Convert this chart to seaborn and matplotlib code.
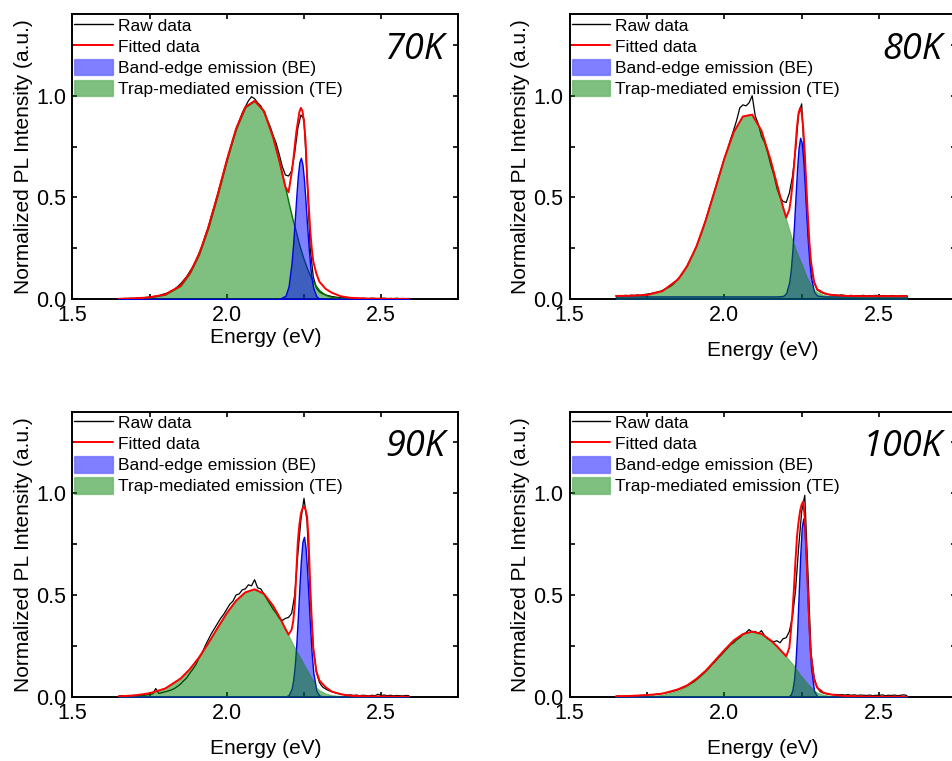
import numpy as np
import pandas as pd
import matplotlib
matplotlib.use("Agg")
import matplotlib.pyplot as plt
import seaborn as sns
from matplotlib.patches import Patch
from matplotlib.lines import Line2D
from matplotlib.ticker import MultipleLocator

# ---------------- data ----------------
TEMPS = ["70K", "80K", "90K", "100K"]

# energy grid for the fitted curves (eV)
E_FIT = [1.65, 1.70, 1.75, 1.80, 1.85, 1.88, 1.91, 1.94, 1.97, 2.00, 2.03, 2.06, 2.09, 2.12, 2.15,
         2.17, 2.19, 2.20, 2.21, 2.215, 2.22, 2.225, 2.23, 2.235, 2.24, 2.245, 2.25, 2.255, 2.26,
         2.265, 2.27, 2.275, 2.28, 2.29, 2.30, 2.32, 2.34, 2.37, 2.40, 2.45, 2.50, 2.55, 2.59]

# energy grid of the raw spectra (eV)
E_RAW = [1.65, 1.66, 1.67, 1.68, 1.69, 1.70, 1.71, 1.72, 1.73, 1.74, 1.75, 1.76, 1.77, 1.78, 1.79,
         1.80, 1.81, 1.82, 1.83, 1.84, 1.85, 1.86, 1.87, 1.88, 1.89, 1.90, 1.91, 1.92, 1.93, 1.94,
         1.95, 1.96, 1.97, 1.98, 1.99, 2.00, 2.01, 2.02, 2.03, 2.04, 2.05, 2.06, 2.07, 2.08, 2.09,
         2.10, 2.11, 2.12, 2.13, 2.14, 2.15, 2.16, 2.17, 2.18, 2.19, 2.20, 2.21, 2.22, 2.23, 2.24,
         2.25, 2.26, 2.27, 2.28, 2.29, 2.30, 2.31, 2.32, 2.33, 2.34, 2.35, 2.36, 2.37, 2.38, 2.39,
         2.40, 2.41, 2.42, 2.43, 2.44, 2.45, 2.46, 2.47, 2.48, 2.49, 2.50, 2.51, 2.52, 2.53, 2.54,
         2.55, 2.56, 2.57, 2.58, 2.59]

# ---- 70K ----
RAW_70 = [.002, .001, .003, .002, .004, .003, .005, .004, .006, .008, .009, .012, .014, .016, .022,
          .026, .031, .040, .047, .060, .074, .092, .110, .135, .158, .190, .225, .262, .310, .355,
          .410, .460, .515, .570, .625, .680, .735, .785, .830, .875, .915, .945, .975, .995, .985,
          .965, .950, .920, .885, .850, .805, .765, .710, .650, .610, .605, .630, .720, .840, .905,
          .885, .600, .250, .110, .055, .035, .026, .020, .016, .012, .010, .008, .006, .007, .004,
          .005, .003, .004, .002, .004, .003, .002, .004, .003, .002, .003, .004, .002, .003, .002,
          .004, .002, .003, .002, .003]
FIT_70 = [.001, .003, .008, .022, .065, .127, .220, .350, .510, .683, .838, .944, .975, .925, .795,
          .680, .550, .525, .620, .680, .750, .820, .870, .920, .940, .925, .870, .780, .600,
          .470, .340, .250, .185, .125, .085, .050, .031, .013, .006, .002, .001, 0, 0]
BE_70 = [0, 0, 0, 0, 0, 0, 0, 0, 0, 0, 0, 0, 0, 0, 0,
         0, .016, .062, .181, .275, .386, .503, .605, .674, .695, .663, .586, .480, .363,
         .255, .165, .099, .055, .013, .002, 0, 0, 0, 0, 0, 0, 0, 0]
TE_70 = [.001, .003, .008, .022, .065, .127, .220, .350, .510, .683, .838, .944, .975, .925, .795,
         .675, .542, .475, .410, .380, .353, .325, .293, .265, .240, .215, .192, .171, .150,
         .132, .115, .100, .086, .062, .042, .020, .010, .004, .002, .001, 0, 0, 0]

# ---- 80K ----
RAW_80 = [.015, .017, .014, .018, .016, .019, .017, .020, .018, .022, .024, .026, .029, .033, .036,
          .042, .050, .057, .066, .080, .098, .115, .138, .165, .195, .225, .260, .300, .340, .390,
          .440, .490, .540, .590, .640, .690, .735, .785, .830, .880, .940, .955, .950, .965, 1.000,
          .900, .860, .800, .770, .720, .660, .610, .545, .500, .480, .475, .520, .600, .730, .910,
          .960, .660, .340, .160, .080, .045, .035, .028, .024, .022, .021, .019, .018, .020, .017,
          .016, .018, .015, .017, .016, .018, .015, .017, .016, .018, .015, .017, .016, .015, .017,
          .016, .014, .016, .015, .016]
FIT_80 = [.015, .016, .020, .039, .096, .162, .259, .388, .538, .691, .820, .898, .907, .828, .681,
          .565, .450, .400, .440, .490, .560, .650, .750, .850, .915, .940, .915, .840, .720,
          .560, .410, .280, .185, .085, .048, .030, .021, .017, .015, .014, .014, .014, .014]
BE_80 = [.013, .013, .013, .013, .013, .013, .013, .013, .013, .013, .013, .013, .013, .013, .013,
         .013, .015, .029, .085, .147, .239, .360, .500, .638, .743, .793, .770, .685, .557,
         .415, .284, .179, .107, .035, .017, .013, .013, .013, .013, .013, .013, .013, .013]
TE_80 = [.014, .016, .020, .039, .096, .162, .259, .388, .538, .691, .820, .898, .907, .828, .681,
         .565, .448, .392, .340, .315, .291, .270, .247, .227, .208, .190, .173, .155, .132,
         .114, .098, .084, .070, .048, .034, .020, .016, .015, .014, .013, .013, .013, .013]

# ---- 90K ----
RAW_90 = [.003, .005, .002, .006, .004, .007, .005, .008, .006, .009, .011, .014, .040, .016, .020,
          .024, .028, .033, .040, .050, .062, .078, .092, .115, .135, .158, .190, .215, .250, .280,
          .310, .335, .360, .385, .405, .430, .455, .470, .500, .505, .525, .530, .550, .545, .575,
          .535, .530, .505, .480, .455, .430, .410, .385, .375, .385, .390, .410, .500, .700, .870,
          .975, .860, .500, .240, .120, .070, .048, .038, .030, .026, .020, .016, .012, .010, .008,
          .009, .006, .008, .005, .007, .006, .004, .007, .005, .012, .006, .008, .005, .007, .004,
          .006, .005, .004, .006, .005]
FIT_90 = [.002, .006, .017, .040, .089, .135, .193, .263, .338, .411, .472, .513, .528, .506, .447,
          .393, .333, .305, .330, .370, .450, .610, .760, .845, .900, .925, .934, .920, .885,
          .770, .550, .380, .240, .125, .080, .047, .025, .012, .005, .002, .001, 0, 0]
BE_90 = [0, 0, 0, 0, 0, 0, 0, 0, 0, 0, 0, 0, 0, 0, 0,
         0, .001, .007, .040, .082, .152, .256, .389, .537, .672, .763, .786, .734, .621,
         .477, .333, .210, .120, .030, .005, 0, 0, 0, 0, 0, 0, 0, 0]
TE_90 = [.001, .005, .015, .039, .089, .135, .193, .263, .338, .411, .472, .513, .528, .506, .447,
         .393, .333, .302, .271, .256, .242, .228, .213, .199, .187, .173, .158, .145, .133,
         .118, .104, .091, .079, .045, .032, .016, .008, .004, .002, .001, 0, 0, 0]

# ---- 100K ----
RAW_100 = [.002, .004, .001, .003, .005, .003, .006, .004, .007, .006, .008, .010, .009, .012, .014,
           .016, .018, .022, .025, .029, .034, .040, .046, .054, .063, .072, .084, .097, .110, .124,
           .140, .158, .172, .190, .205, .222, .238, .255, .265, .280, .290, .305, .315, .330, .318,
           .320, .310, .325, .300, .285, .275, .270, .275, .265, .285, .290, .320, .390, .520, .730,
           .910, .990, .620, .220, .095, .045, .025, .018, .014, .012, .010, .011, .009, .010, .008,
           .010, .007, .009, .006, .008, .007, .006, .008, .005, .007, .006, .009, .005, .007, .006,
           .008, .005, .007, .009, .006]
FIT_100 = [.002, .004, .008, .015, .036, .056, .088, .128, .178, .229, .276, .308, .320, .309, .277,
           .248, .215, .199, .240, .320, .410, .530, .670, .790, .860, .915, .945, .959, .880,
           .700, .520, .340, .200, .085, .045, .020, .012, .006, .003, .001, 0, 0, 0]
BE_100 = [0, 0, 0, 0, 0, 0, 0, 0, 0, 0, 0, 0, 0, 0, 0,
          0, 0, 0, .004, .012, .034, .080, .169, .309, .493, .685, .830, .876, .807,
          .648, .454, .277, .147, .028, .003, 0, 0, 0, 0, 0, 0, 0, 0]
TE_100 = [0, .001, .003, .010, .030, .052, .084, .126, .177, .229, .276, .308, .320, .309, .277,
          .248, .215, .198, .180, .171, .162, .152, .141, .131, .120, .108, .098, .090, .081,
          .071, .062, .054, .046, .031, .021, .010, .005, .002, .001, 0, 0, 0, 0]

RAW = [RAW_70, RAW_80, RAW_90, RAW_100]
FIT = [FIT_70, FIT_80, FIT_90, FIT_100]
BE = [BE_70, BE_80, BE_90, BE_100]
TE = [TE_70, TE_80, TE_90, TE_100]

# ---------------- style ----------------
sns.set_theme(style="ticks")
plt.rcParams['font.family'] = ['Liberation Sans', 'DejaVu Sans']
plt.rcParams['axes.linewidth'] = 1.4
plt.rcParams['axes.edgecolor'] = 'black'
plt.rcParams['text.color'] = 'black'
plt.rcParams['axes.labelcolor'] = 'black'
plt.rcParams['xtick.color'] = 'black'
plt.rcParams['ytick.color'] = 'black'
plt.rcParams['xtick.labelcolor'] = 'black'
plt.rcParams['ytick.labelcolor'] = 'black'

fig = plt.figure(figsize=(9.53, 7.61), dpi=100)
W, H = 953.0, 761.0
positions = [
    [72.4 / W, (H - 299.0) / H, 386.0 / W, 284.6 / H],
    [569.6 / W, (H - 299.0) / H, 386.8 / W, 284.6 / H],
    [72.4 / W, (H - 696.7) / H, 386.0 / W, 284.8 / H],
    [569.6 / W, (H - 696.7) / H, 386.8 / W, 284.8 / H],
]
xlabelpads = [1.5, 10.5, 10.5, 10.5]

be_face = (0.0, 0.0, 1.0, 0.5)
te_face = (0.0, 0.5, 0.0, 0.5)

for i, pos in enumerate(positions):
    ax = fig.add_axes(pos)
    raw_df = pd.DataFrame({"E": E_RAW, "I": RAW[i]})
    fit_df = pd.DataFrame({"E": E_FIT, "I": FIT[i], "BE": BE[i], "TE": TE[i]})

    sns.lineplot(data=raw_df, x="E", y="I", ax=ax, color="black", lw=0.9,
                 estimator=None, sort=False, zorder=2)
    if i == 0:
        ax.fill_between(fit_df["E"], 0, fit_df["TE"], facecolor=te_face,
                        edgecolor=(0.0, 0.45, 0.0), lw=1.0, zorder=3)
        ax.fill_between(fit_df["E"], 0, fit_df["BE"], facecolor=be_face,
                        edgecolor=(0.0, 0.0, 0.9), lw=1.0, zorder=3)
    else:
        ax.fill_between(fit_df["E"], 0, fit_df["BE"], facecolor=be_face,
                        edgecolor=(0.0, 0.0, 0.9), lw=1.0, zorder=3)
        ax.fill_between(fit_df["E"], 0, fit_df["TE"], facecolor=te_face,
                        edgecolor=(0.0, 0.5, 0.0, 0.35), lw=0.8, zorder=3)
    sns.lineplot(data=fit_df, x="E", y="I", ax=ax, color="red", lw=1.4,
                 estimator=None, sort=False, zorder=4)

    ax.set_xlim(1.5, 2.75)
    ax.set_ylim(0.0, 1.4)
    ax.xaxis.set_major_locator(MultipleLocator(0.5))
    ax.xaxis.set_minor_locator(MultipleLocator(0.25))
    ax.set_yticks([0.0, 0.5, 1.0])
    ax.yaxis.set_minor_locator(MultipleLocator(0.25))
    ax.tick_params(which="both", direction="in", top=True, right=True,
                   width=1.2, color="black", labelcolor="black")
    ax.tick_params(which="major", length=3.8, labelsize=15.5, pad=4.5)
    ax.tick_params(which="minor", length=3.8)
    ax.set_xlabel("Energy (eV)", fontsize=15, labelpad=xlabelpads[i], color="black")
    ax.set_ylabel("Normalized PL Intensity (a.u.)", fontsize=15, labelpad=2, color="black")

    handles = [
        Line2D([], [], color="black", lw=1.0),
        Line2D([], [], color="red", lw=1.4),
        Patch(facecolor=be_face, edgecolor=(0.0, 0.0, 1.0, 0.3)),
        Patch(facecolor=te_face, edgecolor=(0.0, 0.5, 0.0, 0.3)),
    ]
    labels = ["Raw data", "Fitted data", "Band-edge emission (BE)",
              "Trap-mediated emission (TE)"]
    leg = ax.legend(handles, labels, loc="upper left", bbox_to_anchor=(0.0, 1.0),
                    frameon=False, fontsize=12.5, handlelength=2.2, handleheight=1.1,
                    labelspacing=0.22, handletextpad=0.3, borderaxespad=0.0, borderpad=0.12)
    for t in leg.get_texts():
        t.set_color("black")
    ax.text(0.965, 0.875, TEMPS[i], transform=ax.transAxes, ha="right", va="center",
            fontsize=26, style="italic", color="black", family=["Open Sans", "DejaVu Sans"])

fig.savefig("out.png", dpi=100)
